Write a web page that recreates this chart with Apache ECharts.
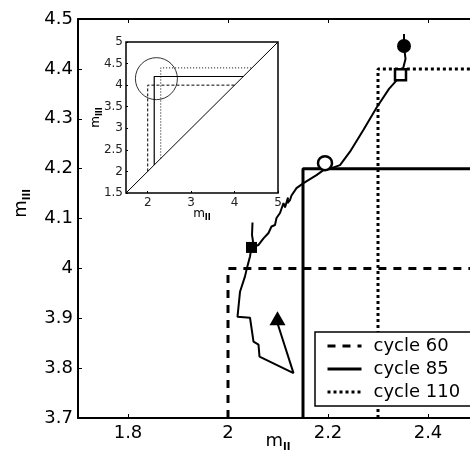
<!DOCTYPE html>
<html>
<head>
<meta charset="utf-8">
<script src="https://cdn.jsdelivr.net/npm/echarts@6/dist/echarts.min.js"></script>
<style>
  html, body { margin: 0; padding: 0; background: #fff; }
  #chart { width: 470px; height: 467px; }
</style>
</head>
<body>
<div id="chart"></div>
<script>
// main axes
const xTicks = [1.8, 2.0, 2.2, 2.4]
const yTicks = [3.7, 3.8, 3.9, 4.0, 4.1, 4.2, 4.3, 4.4, 4.5]
// inset axes
const insetXTicks = [2, 3, 4, 5]
const insetYTicks = [1.5, 2, 2.5, 3, 3.5, 4, 4.5, 5]

// threshold boxes per cycle (main panel)
const cycle60 = [[2.0, 3.7], [2.0, 4.0], [2.5, 4.0]]
const cycle85 = [[2.15, 3.7], [2.15, 4.2], [2.5, 4.2]]
const cycle110 = [[2.3, 3.7], [2.3, 4.4], [2.5, 4.4]]

// inset: same boxes closed on the diagonal
const inset60 = [[2.0, 2.0], [2.0, 4.0], [4.0, 4.0]]
const inset85 = [[2.15, 2.15], [2.15, 4.2], [4.2, 4.2]]
const inset110 = [[2.3, 2.3], [2.3, 4.4], [4.4, 4.4]]
const diagonal = [[1.5, 1.5], [5, 5]]
const zoomCircle = [[2.2, 4.15]]

// trajectory
const trajectory = [
  [2.352, 4.470], [2.352, 4.446], [2.355, 4.420], [2.347, 4.388],
  [2.322, 4.360], [2.297, 4.322], [2.271, 4.278], [2.244, 4.234],
  [2.224, 4.207], [2.207, 4.201], [2.195, 4.200], [2.177, 4.187],
  [2.151, 4.171], [2.137, 4.161], [2.127, 4.146], [2.124, 4.137],
  [2.119, 4.131], [2.120, 4.142], [2.114, 4.122], [2.111, 4.131],
  [2.104, 4.111], [2.097, 4.101], [2.094, 4.087], [2.087, 4.084],
  [2.081, 4.071], [2.071, 4.060], [2.061, 4.047], [2.047, 4.042],
  [2.044, 4.024], [2.037, 3.997], [2.034, 3.984], [2.024, 3.953],
  [2.019, 3.903], [2.044, 3.901], [2.051, 3.853], [2.061, 3.847],
  [2.063, 3.823], [2.131, 3.790], [2.099, 3.890]
]
const spur = [[2.049, 4.092], [2.048, 4.067], [2.050, 4.054], [2.047, 4.042]]

// markers along the trajectory
const markTop = [[2.352, 4.446]]
const markSquareOpen = [[2.345, 4.388]]
const markCircleOpen = [[2.194, 4.211]]
const markSquareFilled = [[2.047, 4.042]]
const markTriangle = [[2.099, 3.900]]

const font = 'DejaVu Sans'
const chart = echarts.init(document.getElementById('chart'))

function subName(main, sub, size, subSize, drop) {
  return {
    name: '{m|' + main + '}{s|' + sub + '}',
    rich: {
      m: { fontFamily: font, fontSize: size, color: '#000' },
      s: { fontFamily: font, fontSize: subSize, fontWeight: 'bold', color: '#000', padding: [drop, 0, 0, 0] }
    }
  }
}
const mainX = subName('m', 'II', 18, 10, 12)
const mainY = subName('m', 'III', 18, 10, 12)
const insX = subName('m', 'II', 12, 8, 8)
const insY = subName('m', 'III', 12, 8, 8)

const mainLine = { show: true, lineStyle: { color: '#000', width: 2 } }
const mainTick = { show: true, inside: true, length: 4, lineStyle: { color: '#000', width: 1 } }

function lineSeries(name, data, type, width, xi) {
  return {
    name: name,
    type: 'line',
    xAxisIndex: xi,
    yAxisIndex: xi === 0 ? 0 : 1,
    data: data,
    symbol: 'none',
    itemStyle: { color: '#000' },
    lineStyle: { color: '#000', width: width, type: type },
    z: 2
  }
}
function marker(data, symbol, size, fill, border) {
  return {
    type: 'scatter',
    xAxisIndex: 0,
    yAxisIndex: 0,
    data: data,
    symbol: symbol,
    symbolSize: size,
    itemStyle: { color: fill, borderColor: '#000', borderWidth: border, opacity: 1 },
    z: 5
  }
}

const option = {
  animation: false,
  backgroundColor: '#fff',
  grid: [
    { left: 78, top: 19, width: 400, height: 399, outerBoundsMode: 'none' },
    { left: 126, top: 42, width: 152, height: 151, outerBoundsMode: 'none', show: true, backgroundColor: '#fff', borderColor: '#000', borderWidth: 1.5 }
  ],
  legend: {
    data: ['cycle 60', 'cycle 85', 'cycle 110'],
    orient: 'vertical',
    left: 315,
    top: 332,
    padding: [5, 12, 5, 11],
    itemWidth: 34,
    itemHeight: 14,
    itemGap: 5,
    backgroundColor: '#fff',
    borderColor: '#000',
    borderWidth: 1.5,
    borderRadius: 0,
    selectedMode: false,
    itemStyle: { color: 'rgba(0,0,0,0)', borderWidth: 0, opacity: 0 },
    lineStyle: { width: 3 },
    textStyle: { fontFamily: font, fontSize: 18, color: '#000', padding: [0, 0, 0, 7] }
  },
  xAxis: [
    {
      type: 'value', gridIndex: 0, min: 1.7, max: 2.5,
      name: mainX.name, nameLocation: 'middle', nameGap: 12, nameMoveOverlap: false,
      nameTextStyle: { rich: mainX.rich },
      axisLine: mainLine,
      axisTick: Object.assign({ customValues: xTicks }, mainTick),
      axisLabel: { customValues: xTicks, fontFamily: font, fontSize: 18, color: '#000', margin: 6 },
      splitLine: { show: false }
    },
    {
      type: 'value', gridIndex: 0, min: 1.7, max: 2.5, position: 'top',
      axisLine: mainLine,
      axisTick: Object.assign({ customValues: xTicks }, mainTick),
      axisLabel: { show: false },
      splitLine: { show: false }
    },
    {
      type: 'value', gridIndex: 1, min: 1.5, max: 5,
      name: insX.name, nameLocation: 'middle', nameGap: 13, nameMoveOverlap: false,
      nameTextStyle: { rich: insX.rich },
      axisLine: { show: false },
      axisTick: { customValues: insetXTicks, inside: true, length: 2, lineStyle: { color: '#000' } },
      axisLabel: { customValues: insetXTicks, fontFamily: font, fontSize: 12, color: '#222', margin: 4 },
      splitLine: { show: false }
    }
  ],
  yAxis: [
    {
      type: 'value', gridIndex: 0, min: 3.7, max: 4.5,
      name: mainY.name, nameLocation: 'middle', nameGap: 46, nameMoveOverlap: false,
      nameTextStyle: { rich: mainY.rich, padding: [0, 0, 0, 30] },
      axisLine: mainLine,
      axisTick: Object.assign({ customValues: yTicks }, mainTick),
      axisLabel: { customValues: yTicks, fontFamily: font, fontSize: 18, color: '#000', margin: 5 },
      splitLine: { show: false }
    },
    {
      type: 'value', gridIndex: 1, min: 1.5, max: 5,
      name: insY.name, nameLocation: 'middle', nameGap: 22, nameMoveOverlap: false,
      nameTextStyle: { rich: insY.rich },
      axisLine: { show: false },
      axisTick: { customValues: insetYTicks, inside: true, length: 2, lineStyle: { color: '#000' } },
      axisLabel: { customValues: insetYTicks, fontFamily: font, fontSize: 12, color: '#222', margin: 3 },
      splitLine: { show: false }
    }
  ],
  series: [
    lineSeries('cycle 60', cycle60, [8, 7], 3, 0),
    lineSeries('cycle 85', cycle85, 'solid', 3, 0),
    lineSeries('cycle 110', cycle110, [3, 3], 3, 0),
    Object.assign(lineSeries('trajectory', trajectory, 'solid', 2, 0), { z: 3 }),
    Object.assign(lineSeries('spur', spur, 'solid', 2, 0), { z: 3 }),
    marker(markTop, 'circle', 14, '#000', 0),
    marker(markSquareOpen, 'rect', 11, '#fff', 2.5),
    marker(markCircleOpen, 'circle', 14, '#fff', 2.5),
    marker(markSquareFilled, 'rect', 11, '#000', 0),
    marker(markTriangle, 'triangle', [16, 14], '#000', 0),
    // inset
    lineSeries('inset diagonal', diagonal, 'solid', 1, 2),
    lineSeries('inset 60', inset60, [3, 2], 1, 2),
    lineSeries('inset 85', inset85, 'solid', 1.2, 2),
    lineSeries('inset 110', inset110, [1, 2], 1, 2),
    {
      type: 'scatter', xAxisIndex: 2, yAxisIndex: 1, data: zoomCircle,
      symbol: 'circle', symbolSize: 42,
      itemStyle: { color: 'transparent', borderColor: '#000', borderWidth: 1 }
    }
  ]
}
chart.setOption(option)
</script>
</body>
</html>
